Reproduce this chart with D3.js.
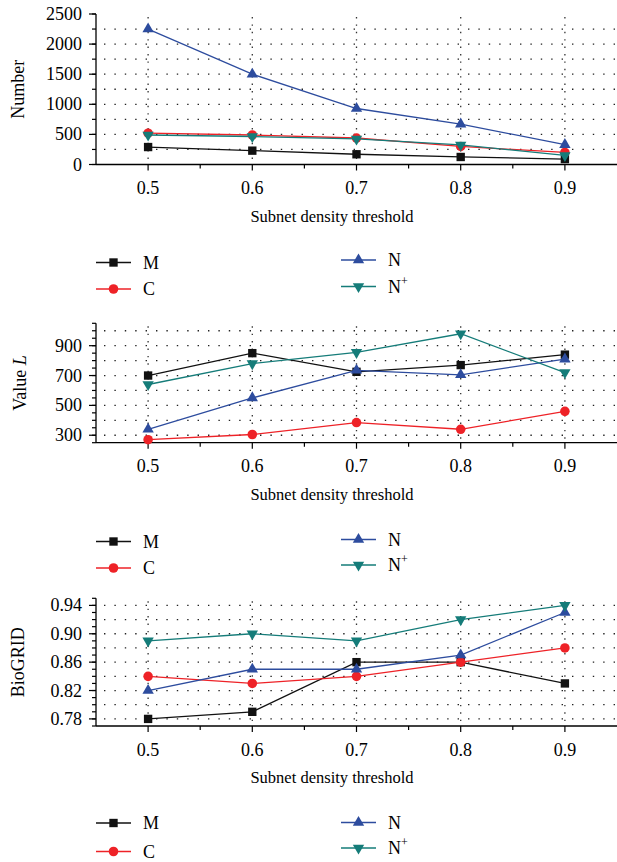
<!DOCTYPE html>
<html>
<head>
<meta charset="utf-8">
<script src="https://cdn.jsdelivr.net/npm/d3@7.9.0/dist/d3.min.js"></script>
<style>
  body { margin: 0; background: #fff; }
  svg { display: block; font-family: "Liberation Serif", "DejaVu Serif", serif; }
</style>
</head>
<body>
<svg id="chart" width="617" height="862"></svg>
<script>
const thresholds = [0.5, 0.6, 0.7, 0.8, 0.9];
const seriesNames = ['M', 'C', 'N', 'N+'];
const seriesColors = ['#111111', '#ee2227', '#2d4c9e', '#157c79'];

// panel 1: number of complexes
const numberM = [290, 230, 170, 125, 90];
const numberC = [520, 490, 440, 300, 200];
const numberN = [2250, 1500, 930, 670, 330];
const numberNp = [490, 465, 425, 325, 150];

// panel 2: value L
const valueM = [700, 850, 725, 770, 840];
const valueC = [270, 305, 385, 340, 460];
const valueN = [340, 550, 735, 705, 810];
const valueNp = [640, 780, 855, 980, 720];

// panel 3: BioGRID
const bioM = [0.78, 0.79, 0.86, 0.86, 0.83];
const bioC = [0.84, 0.83, 0.84, 0.86, 0.88];
const bioN = [0.82, 0.85, 0.85, 0.87, 0.93];
const bioNp = [0.89, 0.90, 0.89, 0.92, 0.94];

const numberTicks = [0, 500, 1000, 1500, 2000, 2500];
const valueTicks = [300, 500, 700, 900];
const bioTicks = [0.78, 0.82, 0.86, 0.90, 0.94];

const svg = d3.select('#chart');
const left = 96, right = 617;
const x = d3.scaleLinear().domain([0.45, 0.95]).range([left, right]);

const symbols = [
  d3.symbol().type(d3.symbolSquare).size(70),
  d3.symbol().type(d3.symbolCircle).size(72),
  d3.symbol().type(d3.symbolTriangle).size(56),
  d3.symbol().type(d3.symbolTriangle).size(56)
];

function drawMarker(g, idx, cx, cy) {
  const p = g.append('path')
    .attr('d', symbols[idx]())
    .attr('fill', seriesColors[idx]);
  if (idx === 3) p.attr('transform', `translate(${cx},${cy}) rotate(180)`);
  else p.attr('transform', `translate(${cx},${cy})`);
}

function drawPanel(cfg) {
  const g = svg.append('g');
  const y = d3.scaleLinear().domain(cfg.domain).range([cfg.bottom, cfg.top]);

  // dotted grid
  g.selectAll('.hgrid').data(cfg.grid).join('line')
    .attr('x1', left + 8).attr('x2', right)
    .attr('y1', d => y(d)).attr('y2', d => y(d))
    .attr('stroke', '#222').attr('stroke-width', 1.3)
    .attr('stroke-dasharray', '1.4,9');
  g.selectAll('.vgrid').data(thresholds).join('line')
    .attr('x1', d => x(d)).attr('x2', d => x(d))
    .attr('y1', cfg.top + 3).attr('y2', cfg.bottom)
    .attr('stroke', '#333').attr('stroke-width', 1.3)
    .attr('stroke-dasharray', '1.4,6');

  // y axis
  const yMinor = d3.range(cfg.domain[0], cfg.domain[1] + cfg.minor / 2, cfg.minor)
    .filter(v => v >= cfg.minorStart - 1e-9);
  g.append('line').attr('x1', left).attr('x2', left)
    .attr('y1', cfg.top).attr('y2', cfg.bottom)
    .attr('stroke', '#000').attr('stroke-width', 1.3);
  g.selectAll('.ymin').data(yMinor).join('line')
    .attr('x1', left - 4).attr('x2', left)
    .attr('y1', d => y(d)).attr('y2', d => y(d))
    .attr('stroke', '#000').attr('stroke-width', 1.2);
  g.selectAll('.ymaj').data(cfg.ticks).join('line')
    .attr('x1', left - 7).attr('x2', left)
    .attr('y1', d => y(d)).attr('y2', d => y(d))
    .attr('stroke', '#000').attr('stroke-width', 1.2);
  g.selectAll('.ylab').data(cfg.ticks).join('text')
    .attr('x', left - 14).attr('y', d => y(d) + 6)
    .attr('text-anchor', 'end').attr('font-size', 18)
    .text(cfg.format);

  // x axis
  g.append('line').attr('x1', left).attr('x2', right)
    .attr('y1', cfg.bottom).attr('y2', cfg.bottom)
    .attr('stroke', '#000').attr('stroke-width', 1.3);
  const xMinor = [0.55, 0.65, 0.75, 0.85];
  g.selectAll('.xmin').data(xMinor).join('line')
    .attr('x1', d => x(d)).attr('x2', d => x(d))
    .attr('y1', cfg.bottom).attr('y2', cfg.bottom + 4)
    .attr('stroke', '#000').attr('stroke-width', 1.2);
  g.selectAll('.xmaj').data(thresholds).join('line')
    .attr('x1', d => x(d)).attr('x2', d => x(d))
    .attr('y1', cfg.bottom).attr('y2', cfg.bottom + 6)
    .attr('stroke', '#000').attr('stroke-width', 1.2);
  g.selectAll('.xlab').data(thresholds).join('text')
    .attr('x', d => x(d)).attr('y', cfg.bottom + 29.5)
    .attr('text-anchor', 'middle').attr('font-size', 18)
    .text(d3.format('.1f'));
  g.append('text')
    .attr('x', 332).attr('y', cfg.bottom + 57)
    .attr('text-anchor', 'middle').attr('font-size', 16.5)
    .text('Subnet density threshold');

  // y title
  const yt = g.append('text')
    .attr('transform', `translate(${cfg.titleX},${(cfg.top + cfg.bottom) / 2}) rotate(-90)`)
    .attr('text-anchor', 'middle').attr('font-size', 18);
  yt.append('tspan').text(cfg.title);
  if (cfg.titleItalic) yt.append('tspan').attr('font-style', 'italic').text(cfg.titleItalic);

  // series
  const line = d3.line().x((d, i) => x(thresholds[i])).y(d => y(d));
  cfg.series.forEach((vals, idx) => {
    g.append('path').datum(vals)
      .attr('d', line)
      .attr('fill', 'none')
      .attr('stroke', seriesColors[idx])
      .attr('stroke-width', 1.3);
    vals.forEach((v, i) => drawMarker(g, idx, x(thresholds[i]), y(v)));
  });

  // legend
  const legendPos = [
    [96, cfg.legendY[0]], [96, cfg.legendY[1]],
    [341, cfg.legendY[2]], [341, cfg.legendY[3]]
  ];
  seriesNames.forEach((name, idx) => {
    const [lx, ly] = legendPos[idx];
    g.append('line').attr('x1', lx).attr('x2', lx + 35)
      .attr('y1', ly).attr('y2', ly)
      .attr('stroke', seriesColors[idx]).attr('stroke-width', 1.3);
    drawMarker(g, idx, lx + 17.5, ly);
    const t = g.append('text').attr('x', lx + 47).attr('y', ly + 6).attr('font-size', 18);
    if (name === 'N+') {
      t.append('tspan').text('N');
      t.append('tspan').attr('dy', -8).attr('font-size', 12).text('+');
    } else {
      t.text(name);
    }
  });
}

drawPanel({
  top: 14, bottom: 164.5, domain: [0, 2500],
  minor: 250, minorStart: 0, ticks: numberTicks,
  grid: d3.range(250, 2500, 250),
  format: d3.format('d'),
  title: 'Number', titleX: 24,
  series: [numberM, numberC, numberN, numberNp],
  legendY: [262.5, 289, 260, 286.5]
});

drawPanel({
  top: 323.3, bottom: 442.7, domain: [250, 1050],
  minor: 50, minorStart: 250, ticks: valueTicks,
  grid: d3.range(300, 1001, 100),
  format: d3.format('d'),
  title: 'Value ', titleItalic: 'L', titleX: 26,
  series: [valueM, valueC, valueN, valueNp],
  legendY: [541.5, 568, 539.5, 565]
});

drawPanel({
  top: 598.3, bottom: 726, domain: [0.77, 0.95],
  minor: 0.01, minorStart: 0.77, ticks: bioTicks,
  grid: d3.range(0.78, 0.941, 0.02),
  format: d3.format('.2f'),
  title: 'BioGRID', titleX: 24,
  series: [bioM, bioC, bioN, bioNp],
  legendY: [823, 851.5, 822.5, 848]
});
</script>
</body>
</html>
